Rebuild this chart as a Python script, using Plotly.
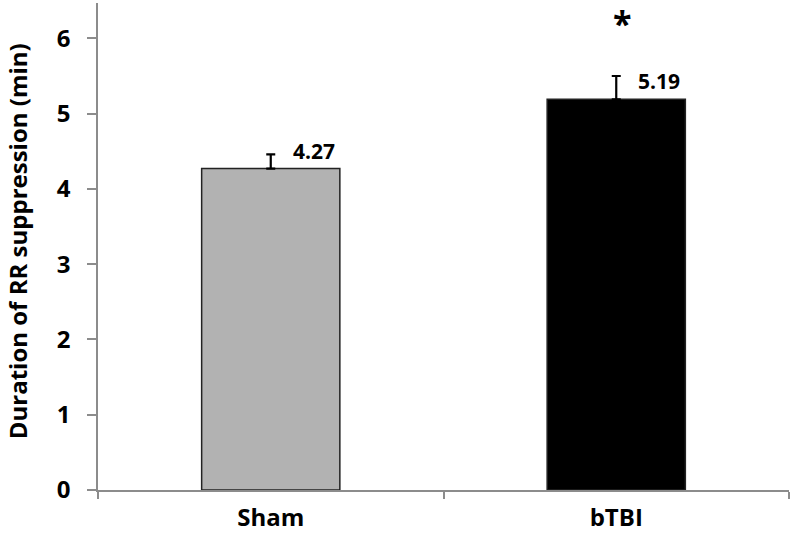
import plotly.graph_objects as go

categories = ["Sham", "bTBI"]
means = [4.27, 5.19]
errors = [0.19, 0.31]
value_labels = ["4.27", "5.19"]
bar_colors = ["#b2b2b2", "#000000"]
y_title = "Duration of RR suppression (min)"

FONT = "Open Sans"

fig = go.Figure()
fig.add_trace(go.Bar(
    x=categories, y=means, width=0.4,
    marker=dict(color=bar_colors, line=dict(color="#222222", width=1.5)),
    error_y=dict(type="data", array=errors, arrayminus=[0, 0], symmetric=False,
                 color="#000000", thickness=2.2, width=4.5),
    showlegend=False,
))

for i, (m, lab) in enumerate(zip(means, value_labels)):
    fig.add_annotation(x=i, y=m, text=f"<b>{lab}</b>", showarrow=False,
                       xanchor="center", yanchor="bottom", xshift=43, yshift=2,
                       font=dict(family=FONT, size=21, color="#000000"))

fig.add_annotation(x=1, y=1.0, yref="paper", text="<b>*</b>", showarrow=False,
                   xanchor="center", yanchor="top", xshift=6, yshift=5,
                   font=dict(family=FONT, size=34, color="#000000"))

# y-axis title as rotated annotation
fig.add_annotation(x=-0.117, y=0.511, xref="paper", yref="paper", text=f"<b>{y_title}</b>",
                   textangle=-90, showarrow=False, xanchor="center", yanchor="middle",
                   font=dict(family=FONT, size=24, color="#000000"))

fig.update_layout(
    width=792, height=539,
    margin=dict(l=98, r=3, t=3, b=49),
    paper_bgcolor="white", plot_bgcolor="white",
    font=dict(family=FONT, color="#000000"),
    xaxis=dict(type="category", range=[-0.5, 1.5], showline=True, linecolor="#8c8c8c",
               linewidth=1.5, ticks="outside", tickson="boundaries", ticklen=7,
               tickcolor="#8c8c8c", tickwidth=1.5, showgrid=False, zeroline=False,
               automargin=False, ticklabelstandoff=5,
               tickfont=dict(family=FONT, size=24, color="#000000", weight="bold")),
    yaxis=dict(range=[0, 6.47], tickvals=[0, 1, 2, 3, 4, 5, 6], showline=True,
               linecolor="#8c8c8c", linewidth=1.5, ticks="outside", ticklen=9,
               tickcolor="#8c8c8c", tickwidth=1.5, showgrid=False, zeroline=False,
               automargin=False, ticklabelstandoff=12,
               tickfont=dict(family=FONT, size=24, color="#000000", weight="bold")),
    bargap=0.6,
)

fig.write_html("out.html", config={"displayModeBar": False},
               post_script="document.body.style.margin='0';")
